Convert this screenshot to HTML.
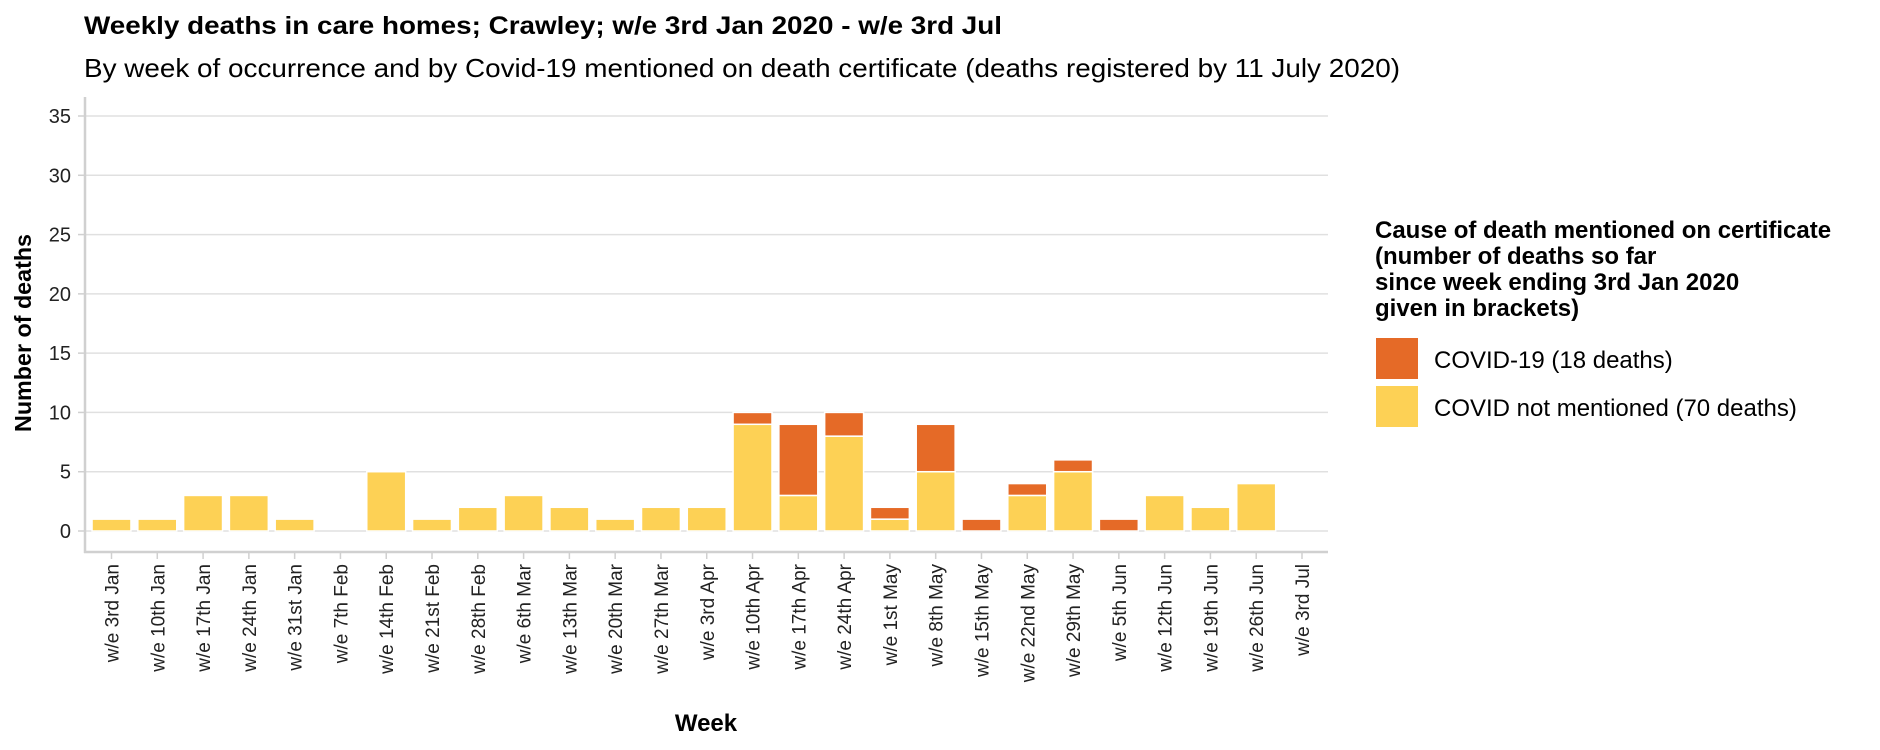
<!DOCTYPE html>
<html><head><meta charset="utf-8">
<style>
html,body{margin:0;padding:0;background:#fff;}
svg{display:block;font-family:"Liberation Sans",Arial,sans-serif;}
</style></head>
<body>
<svg id="chart" width="1880" height="750" viewBox="0 0 1880 750" xmlns="http://www.w3.org/2000/svg">
<text x="84" y="34" font-size="25" font-weight="bold" fill="#000" textLength="918" lengthAdjust="spacingAndGlyphs">Weekly deaths in care homes; Crawley; w/e 3rd Jan 2020 - w/e 3rd Jul</text>
<text x="84" y="77" font-size="26" fill="#000" textLength="1316" lengthAdjust="spacingAndGlyphs">By week of occurrence and by Covid-19 mentioned on death certificate (deaths registered by 11 July 2020)</text>
<g id="grid"></g>
<g id="bars"></g>
<g id="axes"></g>
<text transform="translate(31,333) rotate(-90)" text-anchor="middle" font-size="23" font-weight="bold" textLength="198" lengthAdjust="spacingAndGlyphs">Number of deaths</text>
<text x="706" y="731" text-anchor="middle" font-size="24" font-weight="bold">Week</text>
<g>
<text font-size="24" font-weight="bold" fill="#000">
<tspan x="1375" y="238">Cause of death mentioned on certificate</tspan>
<tspan x="1375" y="264">(number of deaths so far</tspan>
<tspan x="1375" y="290">since week ending 3rd Jan 2020</tspan>
<tspan x="1375" y="316">given in brackets)</tspan>
</text>
<rect x="1376" y="338" width="42" height="41" fill="#E56A27"/>
<text x="1434" y="368" font-size="24">COVID-19 (18 deaths)</text>
<rect x="1376" y="386" width="42" height="41" fill="#FDD155"/>
<text x="1434" y="416" font-size="24">COVID not mentioned (70 deaths)</text>
</g>
</svg>
<script>
const categories = ["w/e 3rd Jan","w/e 10th Jan","w/e 17th Jan","w/e 24th Jan","w/e 31st Jan","w/e 7th Feb","w/e 14th Feb","w/e 21st Feb","w/e 28th Feb","w/e 6th Mar","w/e 13th Mar","w/e 20th Mar","w/e 27th Mar","w/e 3rd Apr","w/e 10th Apr","w/e 17th Apr","w/e 24th Apr","w/e 1st May","w/e 8th May","w/e 15th May","w/e 22nd May","w/e 29th May","w/e 5th Jun","w/e 12th Jun","w/e 19th Jun","w/e 26th Jun","w/e 3rd Jul"];
const notMentioned = [1,1,3,3,1,0,5,1,2,3,2,1,2,2,9,3,8,1,5,0,3,5,0,3,2,4,0];
const covid = [0,0,0,0,0,0,0,0,0,0,0,0,0,0,1,6,2,1,4,1,1,1,1,0,0,0,0];
const yTicks = [0,5,10,15,20,25,30,35];

const NS="http://www.w3.org/2000/svg";
const plotL=85, plotR=1328, y0px=531, y35px=116;
const yScale = v => y0px - (v/35)*(y0px-y35px);
const step=(1302-111.5)/26;
const xScale = i => 111.5 + i*step;
const barW = step*0.85;
function mk(tag, attrs, parent){const e=document.createElementNS(NS,tag);for(const k in attrs)e.setAttribute(k,attrs[k]);parent.appendChild(e);return e;}
const grid=document.getElementById('grid'), bars=document.getElementById('bars'), axes=document.getElementById('axes');
yTicks.forEach(t=>{
  const y=yScale(t);
  const l=mk('line',{x1:plotL,x2:plotR,y1:y,y2:y,stroke:'#e0e0e0','stroke-width':1.5},grid);
  
  
  const tk=mk('line',{x1:78,x2:85,y1:y,y2:y,stroke:'#d0d0d0','stroke-width':1.5},axes);
  
  
  const tx=mk('text',{x:71,y:y+7,'text-anchor':'end','font-size':20,fill:'#222'},axes);
  tx.textContent=t;
  
  
});
categories.forEach((c,i)=>{
  const cx=xScale(i), x=cx-barW/2;
  const nm=notMentioned[i], cv=covid[i];
  if(nm>0){
    const r=mk('rect',{x:x,y:yScale(nm),width:barW,height:yScale(0)-yScale(nm),fill:'#FDD155',stroke:'#fff','stroke-width':1.5},bars);
    
    
  }
  if(cv>0){
    const r=mk('rect',{x:x,y:yScale(nm+cv),width:barW,height:yScale(nm)-yScale(nm+cv),fill:'#E56A27',stroke:'#fff','stroke-width':1.5},bars);
    
    
  }
  const tk=mk('line',{x1:cx,x2:cx,y1:552,y2:559,stroke:'#d0d0d0','stroke-width':1.5},axes);
  
  
  const tx=mk('text',{transform:`translate(${cx+7},564) rotate(-90)`,'text-anchor':'end','font-size':19,fill:'#222'},axes);
  tx.textContent=c;
  
  
});
const ya=mk('line',{x1:85,x2:85,y1:97,y2:553,stroke:'#d0d0d0','stroke-width':2.5},axes);


const xa=mk('line',{x1:84,x2:plotR,y1:552,y2:552,stroke:'#d0d0d0','stroke-width':2.5},axes);


</script>
</body></html>
